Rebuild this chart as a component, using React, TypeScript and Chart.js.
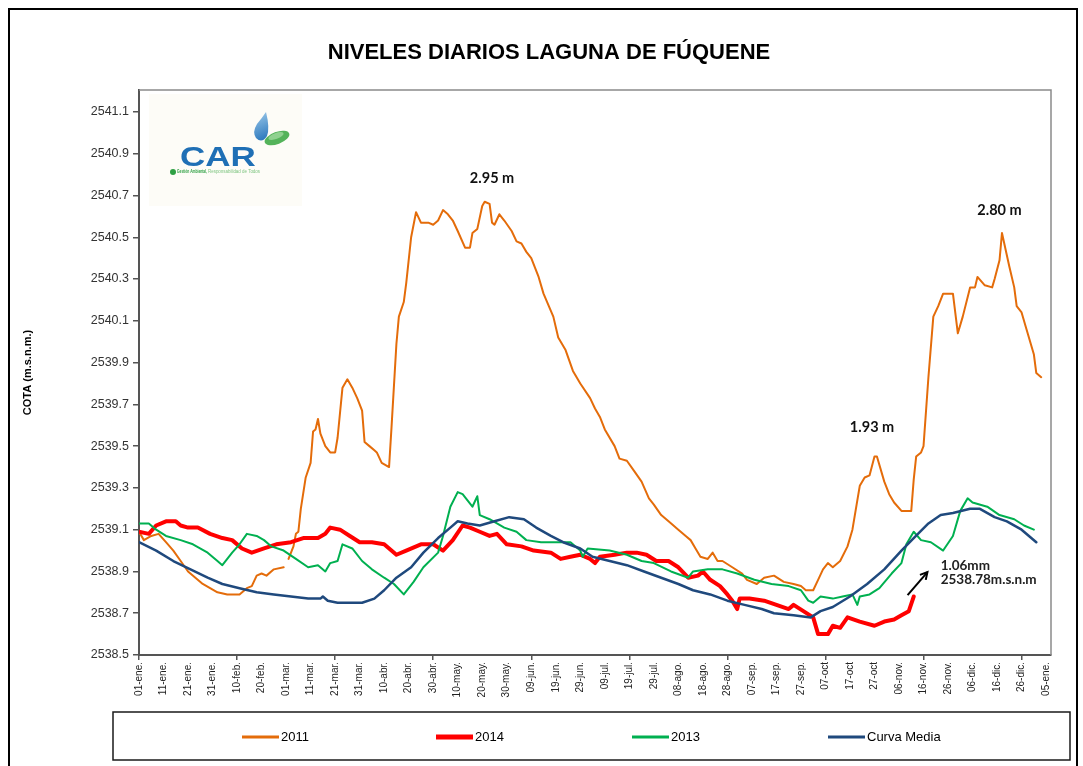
import React, { useEffect, useRef } from 'react';
import { Chart, registerables } from 'chart.js';

Chart.register(...registerables);

// ---- Data (day index from 01-ene, water level in m.s.n.m.) ----
const days2011 = [0, 2, 5, 8, 11, 14, 17, 20, 23, 26, 29, 32, 36, 41, 44, 46, 48, 50, 52, 55, 59, 60, 61, 63, 64, 65, 66, 68, 70, 71, 72, 73, 74, 76, 78, 80, 81, 83, 85, 87, 89, 91, 92, 94, 96, 97, 99, 102, 103, 105, 106, 108, 109, 111, 113, 115, 118, 120, 122, 124, 126, 128, 130, 133, 135, 136, 138, 140, 141, 143, 144, 145, 147, 149, 152, 154, 156, 158, 160, 163, 165, 169, 171, 174, 177, 180, 184, 186, 188, 190, 194, 196, 199, 202, 205, 208, 210, 213, 216, 220, 223, 225, 227, 229, 232, 234, 236, 238, 242, 246, 248, 252, 255, 259, 263, 267, 270, 272, 275, 277, 279, 281, 283, 286, 289, 291, 293, 294, 296, 298, 300, 301, 304, 306, 308, 311, 315, 316, 317, 319, 320, 322, 324, 326, 328, 332, 334, 336, 339, 341, 342, 345, 348, 349, 351, 352, 355, 357, 358, 360, 362, 365, 366, 368];
const cota2011 = [2539.09, 2539.05, 2539.07, 2539.08, 2539.04, 2539.0, 2538.95, 2538.9, 2538.87, 2538.84, 2538.82, 2538.8, 2538.79, 2538.79, 2538.82, 2538.83, 2538.88, 2538.89, 2538.88, 2538.91, 2538.92, null, 2538.96, 2539.02, 2539.08, 2539.09, 2539.2, 2539.35, 2539.42, 2539.57, 2539.58, 2539.63, 2539.56, 2539.5, 2539.47, 2539.47, 2539.54, 2539.78, 2539.82, 2539.78, 2539.73, 2539.67, 2539.52, 2539.5, 2539.48, 2539.47, 2539.42, 2539.4, 2539.59, 2539.99, 2540.12, 2540.19, 2540.28, 2540.5, 2540.62, 2540.57, 2540.57, 2540.56, 2540.58, 2540.63, 2540.61, 2540.58, 2540.53, 2540.45, 2540.45, 2540.52, 2540.54, 2540.65, 2540.67, 2540.66, 2540.57, 2540.56, 2540.61, 2540.58, 2540.53, 2540.48, 2540.47, 2540.43, 2540.4, 2540.31, 2540.23, 2540.12, 2540.02, 2539.96, 2539.86, 2539.8, 2539.73, 2539.68, 2539.64, 2539.58, 2539.5, 2539.44, 2539.43, 2539.38, 2539.33, 2539.25, 2539.22, 2539.17, 2539.14, 2539.1, 2539.07, 2539.05, 2539.01, 2538.97, 2538.96, 2538.99, 2538.95, 2538.95, 2538.92, 2538.89, 2538.86, 2538.84, 2538.87, 2538.88, 2538.85, 2538.84, 2538.83, 2538.81, 2538.81, 2538.86, 2538.91, 2538.94, 2538.92, 2538.95, 2539.02, 2539.1, 2539.24, 2539.31, 2539.35, 2539.36, 2539.45, 2539.45, 2539.33, 2539.27, 2539.23, 2539.19, 2539.19, 2539.34, 2539.45, 2539.47, 2539.5, 2539.83, 2540.12, 2540.17, 2540.23, 2540.23, 2540.04, 2540.12, 2540.26, 2540.26, 2540.31, 2540.27, 2540.26, 2540.3, 2540.39, 2540.52, 2540.36, 2540.26, 2540.17, 2540.14, 2540.06, 2539.94, 2539.85, 2539.83];

const days2014 = [0, 4, 7, 11, 15, 17, 20, 24, 29, 34, 38, 42, 46, 51, 56, 62, 67, 73, 76, 78, 82, 86, 90, 95, 100, 105, 109, 115, 120, 124, 128, 132, 135, 139, 143, 146, 150, 156, 161, 168, 172, 176, 180, 184, 186, 188, 194, 199, 203, 207, 211, 216, 220, 224, 228, 230, 233, 237, 240, 242, 244, 245, 249, 255, 260, 265, 267, 271, 275, 277, 281, 283, 286, 289, 294, 300, 304, 308, 311, 314, 316];
const cota2014 = [2539.09, 2539.08, 2539.12, 2539.14, 2539.14, 2539.12, 2539.11, 2539.11, 2539.08, 2539.06, 2539.05, 2539.01, 2538.99, 2539.01, 2539.03, 2539.04, 2539.06, 2539.06, 2539.08, 2539.11, 2539.1, 2539.07, 2539.04, 2539.04, 2539.03, 2538.98, 2539.0, 2539.03, 2539.03, 2539.0, 2539.05, 2539.12, 2539.11, 2539.09, 2539.07, 2539.08, 2539.03, 2539.02, 2539.0, 2538.99, 2538.96, 2538.97, 2538.98, 2538.96, 2538.94, 2538.97, 2538.98, 2538.99, 2538.99, 2538.98, 2538.95, 2538.95, 2538.92, 2538.87, 2538.88, 2538.9, 2538.86, 2538.83, 2538.79, 2538.76, 2538.72, 2538.77, 2538.77, 2538.76, 2538.74, 2538.72, 2538.74, 2538.71, 2538.68, 2538.6, 2538.6, 2538.64, 2538.63, 2538.68, 2538.66, 2538.64, 2538.66, 2538.67, 2538.69, 2538.71, 2538.78];

const days2013 = [0, 4, 7, 11, 17, 22, 28, 32, 34, 38, 41, 44, 48, 51, 54, 59, 64, 69, 73, 76, 78, 81, 83, 87, 91, 95, 100, 104, 108, 112, 116, 122, 124, 127, 130, 132, 134, 136, 138, 139, 143, 149, 154, 158, 164, 171, 176, 180, 181, 183, 192, 199, 205, 210, 217, 224, 226, 232, 238, 244, 251, 258, 265, 270, 273, 275, 278, 283, 287, 291, 293, 294, 298, 302, 307, 311, 313, 316, 319, 323, 328, 332, 335, 338, 340, 346, 351, 357, 361, 365];
const cota2013 = [2539.13, 2539.13, 2539.1, 2539.07, 2539.05, 2539.03, 2538.99, 2538.95, 2538.93, 2538.99, 2539.03, 2539.08, 2539.07, 2539.05, 2539.02, 2539.0, 2538.96, 2538.92, 2538.93, 2538.9, 2538.94, 2538.95, 2539.03, 2539.01, 2538.95, 2538.91, 2538.87, 2538.84, 2538.79, 2538.85, 2538.92, 2538.99, 2539.07, 2539.21, 2539.28, 2539.27, 2539.24, 2539.21, 2539.26, 2539.17, 2539.15, 2539.11, 2539.09, 2539.05, 2539.04, 2539.04, 2539.04, 2539.0, 2538.97, 2539.01, 2539.0, 2538.98, 2538.95, 2538.94, 2538.9, 2538.87, 2538.9, 2538.91, 2538.91, 2538.89, 2538.86, 2538.84, 2538.83, 2538.81, 2538.76, 2538.75, 2538.78, 2538.77, 2538.78, 2538.79, 2538.74, 2538.78, 2538.79, 2538.82, 2538.89, 2538.94, 2539.03, 2539.09, 2539.05, 2539.04, 2539.0, 2539.07, 2539.19, 2539.25, 2539.23, 2539.21, 2539.17, 2539.15, 2539.12, 2539.1];

const daysMedia = [0, 7, 14, 21, 28, 34, 41, 48, 55, 62, 69, 74, 75, 77, 81, 86, 91, 96, 100, 105, 111, 116, 122, 127, 130, 134, 139, 145, 151, 157, 162, 168, 173, 180, 185, 192, 199, 206, 213, 220, 226, 233, 240, 247, 254, 259, 267, 274, 278, 283, 290, 297, 304, 311, 316, 322, 327, 332, 339, 343, 349, 354, 360, 366];
const cotaMedia = [2539.04, 2539.0, 2538.95, 2538.91, 2538.87, 2538.84, 2538.82, 2538.8, 2538.79, 2538.78, 2538.77, 2538.77, 2538.78, 2538.76, 2538.75, 2538.75, 2538.75, 2538.77, 2538.81, 2538.87, 2538.92, 2538.99, 2539.06, 2539.11, 2539.14, 2539.13, 2539.12, 2539.14, 2539.16, 2539.15, 2539.11, 2539.07, 2539.04, 2539.01, 2538.97, 2538.95, 2538.93, 2538.9, 2538.87, 2538.84, 2538.81, 2538.79, 2538.76, 2538.74, 2538.72, 2538.7, 2538.69, 2538.68, 2538.71, 2538.73, 2538.78, 2538.84, 2538.91, 2539.0, 2539.06, 2539.13, 2539.17, 2539.18, 2539.2, 2539.2, 2539.16, 2539.14, 2539.1, 2539.04];

const xTickDays = [0, 10, 20, 30, 40, 50, 60, 70, 80, 90, 100, 110, 120, 130, 140, 150, 160, 170, 180, 190, 200, 210, 220, 230, 240, 250, 260, 270, 280, 290, 300, 310, 320, 330, 340, 350, 360, 370];
const xTickLabels = ['01-ene.', '11-ene.', '21-ene.', '31-ene.', '10-feb.', '20-feb.', '01-mar.', '11-mar.', '21-mar.', '31-mar.', '10-abr.', '20-abr.', '30-abr.', '10-may.', '20-may.', '30-may.', '09-jun.', '19-jun.', '29-jun.', '09-jul.', '19-jul.', '29-jul.', '08-ago.', '18-ago.', '28-ago.', '07-sep.', '17-sep.', '27-sep.', '07-oct', '17-oct', '27-oct', '06-nov.', '16-nov.', '26-nov.', '06-dic.', '16-dic.', '26-dic.', '05-ene.'];
const yTickValues = [2538.5, 2538.7, 2538.9, 2539.1, 2539.3, 2539.5, 2539.7, 2539.9, 2540.1, 2540.3, 2540.5, 2540.7, 2540.9, 2541.1];

const seriesNames = ['2011', '2014', '2013', 'Curva Media'];
const seriesColors = ['#E46C0A', '#FF0000', '#00B050', '#1F497D'];
const seriesWidths = [2, 4, 2, 2.5];

const peakLabels = [
  { text: '2.95 m', day: 144, cota: 2540.78 },
  { text: '1.93 m', day: 299, cota: 2539.59 },
  { text: '2.80 m', day: 351, cota: 2540.63 },
];
const noteLines = ['1.06mm', '2538.78m.s.n.m'];
const noteAnchor = { day: 327, cota: 2538.926, lineStep: 0.067 };
const arrowFrom = { day: 313.5, cota: 2538.787 };
const arrowTo = { day: 321.6, cota: 2538.897 };

const TITLE = 'NIVELES DIARIOS LAGUNA DE FÚQUENE';

const toPoints = (d: number[], v: (number | null)[]) => d.map((x, i) => ({ x, y: v[i] }));

const decorPlugin = {
  id: 'decor',
  beforeDraw(chart: any) {
    const { ctx, width, height } = chart;
    ctx.save();
    ctx.fillStyle = '#ffffff';
    ctx.fillRect(0, 0, width, height);
    // outer frame
    ctx.strokeStyle = '#000';
    ctx.lineWidth = 2;
    ctx.strokeRect(9, 9, 1068, 800);
    ctx.restore();
  },
  beforeDatasetsDraw(chart: any) {
    const { ctx } = chart;
    ctx.save();
    // logo background
    ctx.fillStyle = '#fdfcf7';
    ctx.fillRect(149, 94, 153, 112);
    // drop
    const grd = ctx.createLinearGradient(255, 112, 268, 142);
    grd.addColorStop(0, '#9cc9ea');
    grd.addColorStop(1, '#1f6fb8');
    ctx.fillStyle = grd;
    ctx.beginPath();
    ctx.moveTo(266, 112);
    ctx.quadraticCurveTo(270, 128, 267, 136);
    ctx.quadraticCurveTo(262, 144, 256, 138);
    ctx.quadraticCurveTo(252, 132, 257, 124);
    ctx.quadraticCurveTo(262, 118, 266, 112);
    ctx.fill();
    // leaf
    ctx.fillStyle = '#54b35a';
    ctx.beginPath();
    ctx.ellipse(277, 138, 13, 6, -0.35, 0, Math.PI * 2);
    ctx.fill();
    ctx.fillStyle = '#8fd18f';
    ctx.beginPath();
    ctx.ellipse(276, 136, 8, 3, -0.35, 0, Math.PI * 2);
    ctx.fill();
    // CAR text
    ctx.save();
    ctx.translate(180, 166);
    ctx.scale(1.25, 1);
    ctx.fillStyle = '#1f6fb5';
    ctx.font = 'bold 28px "Liberation Sans", Arial, sans-serif';
    ctx.textBaseline = 'alphabetic';
    ctx.fillText('CAR', 0, 0);
    ctx.restore();
    // tagline
    ctx.fillStyle = '#2ea043';
    ctx.beginPath();
    ctx.arc(173, 172, 3, 0, Math.PI * 2);
    ctx.fill();
    ctx.font = 'bold 5px "Liberation Sans", Arial, sans-serif';
    ctx.textBaseline = 'middle';
    ctx.fillText('Gestión Ambiental,', 177, 172, 30);
    ctx.fillStyle = '#7cc47f';
    ctx.font = '5px "Liberation Sans", Arial, sans-serif';
    ctx.fillText('Responsabilidad de Todos', 208, 172, 52);
    ctx.restore();
  },
  afterDraw(chart: any) {
    const { ctx, chartArea: ca, scales } = chart;
    const xs = scales.x;
    const ys = scales.y;
    ctx.save();
    // plot border (top & right)
    ctx.strokeStyle = '#8a8a8a';
    ctx.lineWidth = 1.5;
    ctx.beginPath();
    ctx.moveTo(ca.left, ca.top);
    ctx.lineTo(ca.right, ca.top);
    ctx.lineTo(ca.right, ca.bottom);
    ctx.stroke();

    // title
    ctx.fillStyle = '#000';
    ctx.font = 'bold 22px "Liberation Sans", Arial, sans-serif';
    ctx.textAlign = 'center';
    ctx.textBaseline = 'middle';
    ctx.fillText(TITLE, 549, 53);

    // peak labels
    ctx.font = 'bold 14.5px Lato, "Open Sans", sans-serif';
    ctx.fillStyle = '#111';
    peakLabels.forEach((p) => {
      ctx.fillText(p.text, xs.getPixelForValue(p.day), ys.getPixelForValue(p.cota));
    });

    // note
    ctx.textAlign = 'left';
    ctx.font = 'bold 13.5px Lato, "Open Sans", sans-serif';
    ctx.fillStyle = '#222';
    noteLines.forEach((t, i) => {
      ctx.fillText(t, xs.getPixelForValue(noteAnchor.day), ys.getPixelForValue(noteAnchor.cota - i * noteAnchor.lineStep));
    });

    // arrow
    const x1 = xs.getPixelForValue(arrowFrom.day);
    const y1 = ys.getPixelForValue(arrowFrom.cota);
    const x2 = xs.getPixelForValue(arrowTo.day);
    const y2 = ys.getPixelForValue(arrowTo.cota);
    const ang = Math.atan2(y2 - y1, x2 - x1);
    ctx.strokeStyle = '#000';
    ctx.lineWidth = 2;
    ctx.beginPath();
    ctx.moveTo(x1, y1);
    ctx.lineTo(x2, y2);
    ctx.stroke();
    ctx.beginPath();
    ctx.moveTo(x2 - 8 * Math.cos(ang - 0.5), y2 - 8 * Math.sin(ang - 0.5));
    ctx.lineTo(x2, y2);
    ctx.lineTo(x2 - 8 * Math.cos(ang + 0.5), y2 - 8 * Math.sin(ang + 0.5));
    ctx.stroke();

    // legend box
    ctx.strokeStyle = '#1a1a1a';
    ctx.lineWidth = 1.5;
    ctx.strokeRect(113, 712, 957, 48);
    const itemX = [242, 436, 632, 828];
    const ly = 737;
    ctx.font = '13px "Liberation Sans", Arial, sans-serif';
    ctx.textBaseline = 'middle';
    ctx.textAlign = 'left';
    seriesNames.forEach((n, i) => {
      ctx.strokeStyle = seriesColors[i];
      ctx.lineWidth = i === 1 ? 5 : 3;
      ctx.beginPath();
      ctx.moveTo(itemX[i], ly);
      ctx.lineTo(itemX[i] + 37, ly);
      ctx.stroke();
      ctx.fillStyle = '#000';
      ctx.fillText(n, itemX[i] + 39, ly);
    });
    ctx.restore();
  },
};

export default function App() {
  const ref = useRef<HTMLCanvasElement>(null);
  useEffect(() => {
    if (!ref.current) return;
    const seriesDays = [days2011, days2014, days2013, daysMedia];
    const seriesVals = [cota2011, cota2014, cota2013, cotaMedia];
    const chart = new Chart(ref.current, {
      type: 'line',
      data: {
        datasets: seriesNames.map((name, i) => ({
          label: name,
          data: toPoints(seriesDays[i], seriesVals[i]),
          borderColor: seriesColors[i],
          backgroundColor: seriesColors[i],
          borderWidth: seriesWidths[i],
          pointRadius: 0,
          tension: 0,
          spanGaps: false,
          borderJoinStyle: 'round',
          borderCapStyle: 'round',
          order: 4 - i,
        })),
      },
      options: {
        responsive: false,
        animation: false,
        devicePixelRatio: 1,
        layout: { padding: { left: 0, top: 90, right: 32, bottom: 51 } },
        plugins: { legend: { display: false }, title: { display: false }, tooltip: { enabled: false } },
        scales: {
          x: {
            type: 'linear',
            min: 0,
            max: 372,
            afterBuildTicks: (s: any) => {
              s.ticks = xTickDays.map((v) => ({ value: v }));
            },
            afterFit: (s: any) => {
              s.height = 60;
            },
            ticks: {
              autoSkip: false,
              minRotation: 90,
              maxRotation: 90,
              padding: 2,
              color: '#222',
              font: { family: '"Liberation Sans", Arial, sans-serif', size: 10 },
              callback: (_v: any, i: number) => xTickLabels[i],
            },
            grid: {
              drawOnChartArea: false,
              drawTicks: true,
              tickLength: 5,
              lineWidth: 1.5,
              color: (c: any) => (c.index % 4 === 0 ? '#555' : 'rgba(0,0,0,0)'),
            },
            border: { display: true, color: '#555', width: 2 },
          },
          y: {
            type: 'linear',
            min: 2538.5,
            max: 2541.205,
            afterBuildTicks: (s: any) => {
              s.ticks = yTickValues.map((v) => ({ value: v }));
            },
            afterFit: (s: any) => {
              s.width = 139;
            },
            ticks: {
              padding: 4,
              color: '#333',
              font: { family: '"Liberation Sans", Arial, sans-serif', size: 12.5 },
              callback: (v: any) => Number(v).toFixed(1),
            },
            grid: { drawOnChartArea: false, tickLength: 6, lineWidth: 1.5, color: '#555' },
            border: { display: true, color: '#555', width: 2 },
            title: {
              display: true,
              text: 'COTA (m.s.n.m.)',
              color: '#000',
              font: { family: '"Liberation Sans", Arial, sans-serif', size: 11, weight: 'bold' },
              padding: { top: 21, bottom: 0 },
            },
          },
        },
      },
      plugins: [decorPlugin],
    } as any);
    return () => chart.destroy();
  }, []);
  return (
    <div style={{ position: 'absolute', left: 0, top: 0, width: 1083, height: 766, background: '#fff' }}>
      <canvas ref={ref} width={1083} height={766} style={{ display: 'block', width: 1083, height: 766 }} />
    </div>
  );
}
